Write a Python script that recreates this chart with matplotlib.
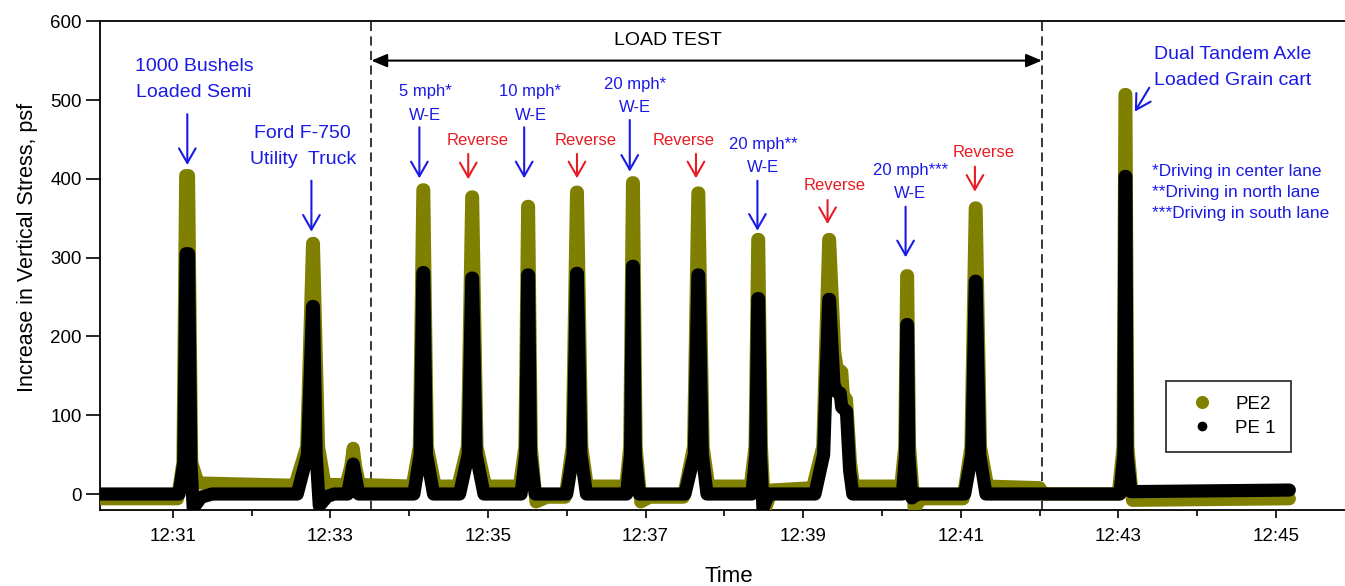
import matplotlib
matplotlib.use("Agg")
import matplotlib.pyplot as plt
from matplotlib.lines import Line2D

plt.rcParams["font.family"] = ["Liberation Sans", "DejaVu Sans"]

# time in minutes after 12:00, stress in psf (vertices)
pe2_t = [30.08, 31.06, 31.13, 31.165, 31.20, 31.24, 31.32, 32.55, 32.70, 32.775, 32.785, 32.85, 32.93,
         33.20, 33.26, 33.29, 33.32, 33.37, 34.04, 34.13, 34.175, 34.185, 34.23, 34.33, 34.62, 34.74,
         34.795, 34.805, 34.86, 34.97, 35.40, 35.47, 35.505, 35.515, 35.55, 35.61, 35.75, 35.98, 36.07,
         36.125, 36.135, 36.19, 36.26, 36.75, 36.80, 36.835, 36.845, 36.88, 36.94, 37.05, 37.48, 37.61,
         37.665, 37.675, 37.73, 37.80, 38.33, 38.39, 38.425, 38.435, 38.47, 38.51, 38.60, 39.12, 39.25,
         39.325, 39.335, 39.40, 39.43, 39.49, 39.51, 39.55, 39.60, 39.64, 40.24, 40.29, 40.315, 40.325,
         40.35, 40.41, 40.50, 41.03, 41.13, 41.185, 41.195, 41.25, 41.34, 42.00, 42.05, 43.00, 43.06,
         43.085, 43.095, 43.12, 43.18, 45.17]
pe2_v = [-6, -6, 40, 404, 404, 40, 14, 11, 60, 318, 318, 60, 12,
         12, 35, 58, 35, 12, 10, 60, 386, 386, 60, 10, 10, 60,
         377, 377, 60, 10, 10, 60, 365, 365, 60, -10, -4, -4, 60,
         383, 383, 60, 10, 10, 60, 395, 395, 60, -10, -4, -4, 60,
         382, 382, 60, 10, 10, 60, 323, 323, 60, -22, 5, 8, 60,
         323, 323, 180, 160, 155, 125, 120, 40, 10, 10, 60, 277, 277,
         60, -18, -6, -6, 60, 363, 363, 60, 10, 8, 0, 0, 60,
         507, 507, 60, -8, -6]

pe1_t = [30.08, 31.08, 31.14, 31.17, 31.20, 31.23, 31.26, 31.36, 31.50, 32.58, 32.71, 32.775,
         32.785, 32.82, 32.86, 32.96, 33.05, 33.22, 33.29, 33.36, 34.06, 34.14, 34.175, 34.185,
         34.22, 34.31, 34.64, 34.75, 34.795, 34.805, 34.85, 34.95, 35.42, 35.48, 35.505, 35.515,
         35.54, 35.60, 36.00, 36.08, 36.125, 36.135, 36.18, 36.25, 36.76, 36.81, 36.835, 36.845,
         36.87, 36.92, 37.50, 37.62, 37.665, 37.675, 37.72, 37.78, 38.35, 38.40, 38.425, 38.435,
         38.46, 38.49, 38.56, 39.15, 39.26, 39.325, 39.335, 39.39, 39.42, 39.47, 39.49, 39.55,
         39.59, 39.63, 40.26, 40.30, 40.315, 40.325, 40.34, 40.38, 40.45, 41.05, 41.14, 41.185,
         41.195, 41.24, 41.32, 43.02, 43.07, 43.085, 43.095, 43.11, 43.16, 45.17]
pe1_v = [0, 0, 40, 305, 305, 40, -18, -4, 0, 0, 50, 238,
         238, 50, -15, -3, 0, 0, 38, 0, 0, 50, 281, 281,
         50, 0, 0, 50, 274, 274, 50, 0, 0, 50, 278, 278,
         50, 0, 0, 50, 280, 280, 50, 0, 0, 50, 289, 289,
         50, 0, 0, 50, 278, 278, 50, 0, 0, 50, 248, 248,
         50, -18, 0, 0, 50, 247, 247, 140, 130, 128, 110, 105,
         30, 0, 0, 50, 215, 215, 50, -5, 0, 0, 50, 270,
         270, 50, 0, 0, 50, 403, 403, 50, 3, 5]

major_ticks = [31, 33, 35, 37, 39, 41, 43, 45]
tick_labels = ["12:31", "12:33", "12:35", "12:37", "12:39", "12:41", "12:43", "12:45"]
minor_ticks = [32, 34, 36, 38, 40, 42, 44]
load_test = [33.52, 42.03]

OLIVE = "#808000"
BLUE = "#1a1ae6"
RED = "#e81c24"

W, H = 1345, 586
fig = plt.figure(figsize=(W / 100, H / 100), dpi=100)
x0, x1 = 30.077, 46.0
ax = fig.add_axes([100 / W, 1 - 510 / H, (x1 - x0) * 78.8 / W, (510 - 21.2) / H])
ax.set_xlim(x0, x1)
ax.set_ylim(-20.3, 600)

ax.plot(pe2_t, pe2_v, color=OLIVE, lw=9.5, solid_joinstyle="round", solid_capstyle="round", zorder=3)
ax.plot(pe1_t, pe1_v, color="black", lw=9.5, solid_joinstyle="round", solid_capstyle="round", zorder=4)

for xl in load_test:
    ax.plot([xl, xl], [-20.3, 600], color="black", lw=1.1, dashes=(6, 3.5), zorder=2)
ax.annotate("", xy=(load_test[1], 550), xytext=(load_test[0], 550),
            arrowprops=dict(arrowstyle="<|-|>,head_length=0.95,head_width=0.4", mutation_scale=10,
                            color="black", lw=1.5, shrinkA=0, shrinkB=0))
ax.text(37.29, 575, "LOAD TEST", fontsize=14, ha="center", va="center")


def arrow(x, ytop, ybot, color, xend=None):
    ax.annotate("", xy=(x if xend is None else xend, ybot), xytext=(x, ytop),
                arrowprops=dict(arrowstyle="->,head_length=1.05,head_width=0.6", mutation_scale=10,
                                color=color, lw=1.5, shrinkA=0, shrinkB=0), zorder=6)


def label(x, y, s, color, size=12):
    ax.text(x, y, s, color=color, fontsize=size, ha="center", va="center", linespacing=1.7, zorder=6)


label(31.27, 526, "1000 Bushels\nLoaded Semi", BLUE, 14)
arrow(31.185, 482, 417.5, BLUE)
label(32.65, 441, "Ford F-750\nUtility  Truck", BLUE, 14)
arrow(32.76, 397.6, 332.9, BLUE)

label(34.20, 495.8, "5 mph*\nW-E", BLUE)
arrow(34.13, 465.4, 400.6, BLUE)
label(34.87, 449.2, "Reverse", RED)
arrow(34.75, 431.5, 399.4, RED)

label(35.54, 495.8, "10 mph*\nW-E", BLUE)
arrow(35.46, 465.4, 400.6, BLUE)
label(36.245, 449.2, "Reverse", RED)
arrow(36.13, 431.5, 400.6, RED)

label(36.87, 504.8, "20 mph*\nW-E", BLUE)
arrow(36.80, 474.6, 409, BLUE)
label(37.48, 449.2, "Reverse", RED)
arrow(37.64, 431.5, 400.6, RED)

label(38.495, 428.7, "20 mph**\nW-E", BLUE)
arrow(38.42, 397.6, 334.1, BLUE)
label(39.405, 391.2, "Reverse", RED)
arrow(39.31, 373.1, 342.6, RED)

label(40.357, 395.7, "20 mph***\nW-E", BLUE)
arrow(40.30, 364.6, 300.4, BLUE)
label(41.296, 433.1, "Reverse", RED)
arrow(41.18, 415.4, 383.6, RED)

label(44.455, 541.6, "Dual Tandem Axle\nLoaded Grain cart", BLUE, 14)
arrow(43.393, 515.6, 485.2, BLUE, xend=43.21)

notes = ["*Driving in center lane", "**Driving in north lane", "***Driving in south lane"]
for note, yv in zip(notes, [409, 382.4, 356.2]):
    ax.text(43.424, yv, note, color=BLUE, fontsize=12.4, ha="left", va="center", zorder=6)

ax.set_xticks(major_ticks)
ax.set_xticklabels(tick_labels)
ax.set_xticks(minor_ticks, minor=True)
ax.set_yticks(range(0, 601, 100))
ax.tick_params(axis="x", which="major", length=6, width=1.2, pad=7, labelsize=13.5)
ax.tick_params(axis="x", which="minor", length=4, width=1.2)
ax.tick_params(axis="y", length=10, width=1.2, pad=3, labelsize=13.5)
for sp in ax.spines.values():
    sp.set_linewidth(1.3)

ax.set_xlabel("Time", fontsize=16)
ax.xaxis.set_label_coords(728.5 / W, 1 - 577 / H, transform=fig.transFigure)
ax.set_ylabel("Increase in Vertical Stress, psf", fontsize=15.5)
ax.yaxis.set_label_coords(28 / W, 1 - 247.5 / H, transform=fig.transFigure)
ax.xaxis.label.set_va("center")
ax.yaxis.label.set_va("center")

handles = [Line2D([], [], ls="none", marker="o", ms=8.4, color=OLIVE, label="PE2"),
           Line2D([], [], ls="none", marker="o", ms=6, color="black", label="PE 1")]
leg = ax.legend(handles=handles, loc="upper left", bbox_to_anchor=(1166 / W, 1 - 380.7 / H),
                bbox_transform=fig.transFigure, fontsize=13.5, frameon=True, fancybox=False,
                borderpad=0.8, handlelength=2.2, handletextpad=0.7, labelspacing=0.35,
                borderaxespad=0)
leg.get_frame().set_edgecolor("black")
leg.get_frame().set_linewidth(1.3)
leg.set_zorder(7)

fig.savefig("out.png", dpi=100)
